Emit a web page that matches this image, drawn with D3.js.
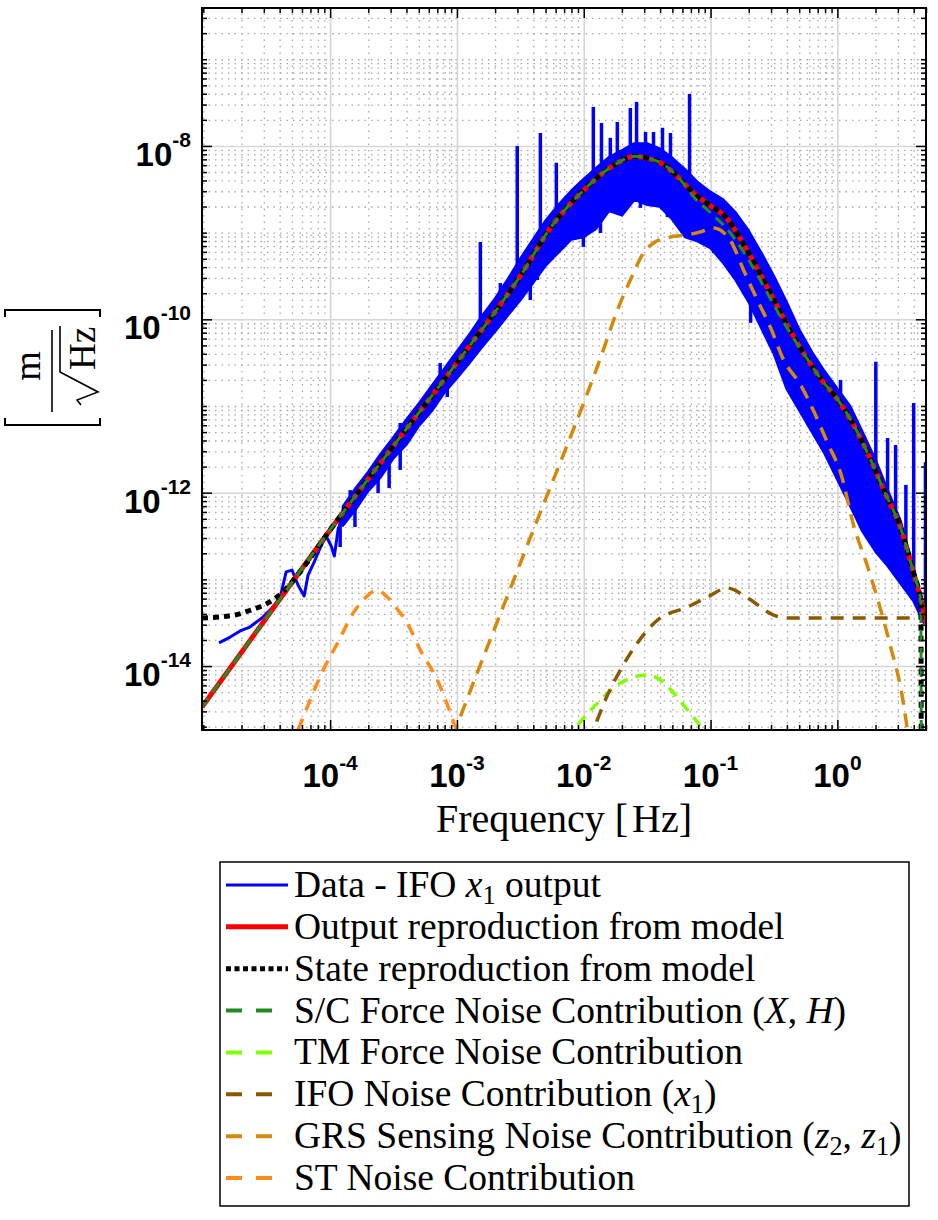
<!DOCTYPE html>
<html>
<head>
<meta charset="utf-8">
<title>IFO x1 output PSD</title>
<script src="https://cdn.jsdelivr.net/npm/d3@7/dist/d3.min.js"></script>
<style>
  body { margin: 0; background: #fff; }
  text { white-space: pre; }
</style>
</head>
<body>
<div id="my_dataviz"></div>
<script>
// ---- values ----

// data (blue), single trace at low frequency
const dataLowFreq = [1.33e-5, 1.63e-5, 1.95e-5, 2.33e-5, 2.90e-5, 3.48e-5, 4.03e-5, 4.50e-5, 5.01e-5, 5.58e-5,
  6.24e-5, 6.70e-5, 7.48e-5, 8.34e-5, 9.29e-5, 1.02e-4, 1.08e-4, 1.16e-4, 1.26e-4];
const dataLowPsd = [1.85e-14, 2.16e-14, 2.54e-14, 2.82e-14, 3.58e-14, 4.67e-14, 6.10e-14, 1.22e-13, 1.28e-13, 8.61e-14,
  6.43e-14, 1.12e-13, 1.58e-13, 2.30e-13, 3.16e-13, 2.43e-13, 1.86e-13, 3.91e-13, 5.01e-13];

// data (blue), noisy band: upper and lower envelope
const bandFreq = [1.26e-4, 1.58e-4, 2.0e-4, 2.51e-4, 3.16e-4, 3.98e-4, 5.01e-4, 6.31e-4, 7.94e-4,
  1e-3, 1.26e-3, 1.58e-3, 2.0e-3, 2.51e-3, 3.16e-3, 3.98e-3, 5.01e-3, 6.31e-3, 7.94e-3,
  1e-2, 1.26e-2, 1.58e-2, 2.0e-2, 2.51e-2, 3.16e-2, 3.98e-2, 5.01e-2, 6.31e-2, 7.94e-2,
  0.1, 0.126, 0.158, 0.2, 0.251, 0.316, 0.398, 0.501, 0.631, 0.794,
  1, 1.26, 1.58, 2.0, 2.51, 3.16, 3.98, 4.79];
const bandUpper = [6.92e-13, 1.12e-12, 1.74e-12, 2.82e-12, 4.37e-12, 6.92e-12, 1.07e-11, 1.70e-11, 2.69e-11,
  4.27e-11, 6.76e-11, 1.10e-10, 1.74e-10, 2.88e-10, 5.01e-10, 8.32e-10, 1.38e-9, 2.09e-9, 3.02e-9,
  4.17e-9, 5.62e-9, 7.41e-9, 8.91e-9, 1.07e-8, 1.07e-8, 9.33e-9, 7.24e-9, 5.37e-9, 3.80e-9,
  2.95e-9, 2.40e-9, 1.70e-9, 1.05e-9, 5.89e-10, 3.16e-10, 1.58e-10, 7.59e-11, 4.17e-11, 2.51e-11,
  1.58e-11, 1.00e-11, 5.01e-12, 2.40e-12, 1.05e-12, 4.68e-13, 1.38e-13, 4.47e-14];
const bandLower = [4.17e-13, 6.31e-13, 1.05e-12, 1.51e-12, 2.51e-12, 3.55e-12, 5.89e-12, 8.71e-12, 1.41e-11,
  2.09e-11, 3.16e-11, 4.79e-11, 7.24e-11, 1.10e-10, 1.66e-10, 2.63e-10, 4.17e-10, 5.89e-10, 8.32e-10,
  8.91e-10, 1.12e-9, 1.78e-9, 1.58e-9, 2.40e-9, 2.09e-9, 2.00e-9, 1.41e-9, 8.91e-10, 7.94e-10,
  6.61e-10, 4.47e-10, 2.82e-10, 1.58e-10, 7.94e-11, 3.98e-11, 1.58e-11, 8.91e-12, 5.01e-12, 2.82e-12,
  1.41e-12, 7.08e-13, 3.55e-13, 2.09e-13, 1.41e-13, 8.91e-14, 5.62e-14, 3.16e-14];

// data (blue), isolated lines and dips: frequency, bottom, top
const spikeFreq = [1.53e-3, 2.99e-3, 4.55e-3, 6.08e-3, 1.19e-2, 1.38e-2, 1.62e-2, 1.84e-2, 2.33e-2, 2.61e-2, 3.07e-2,
  3.55e-2, 4.18e-2, 4.83e-2, 6.83e-2, 1.06, 2.01, 2.49, 2.88, 3.47, 4.0, 4.95,
  1.44e-4, 3.57e-4, 7.38e-4, 2.20e-3,
  1.20e-4, 1.57e-4, 2.39e-4, 2.92e-4, 3.57e-4, 8.39e-4, 1.83e-3, 3.79e-3, 4.31e-3, 9.93e-3, 1.355e-2, 2.80e-2,
  4.57e-2, 0.106, 0.207];
const spikeLow = [7.6e-11, 2.5e-10, 5.5e-10, 1.23e-9, 3.55e-9, 3.98e-9, 6.0e-9, 6.9e-9, 8.9e-9, 9.0e-9, 7.0e-9,
  9.0e-9, 6.0e-9, 7.0e-9, 4.6e-9, 1.02e-11, 1.82e-12, 8.3e-13, 5.5e-13, 2.8e-13, 1.17e-13, 4.5e-14,
  7.4e-13, 4.4e-12, 1.78e-11, 1.5e-10,
  2.36e-13, 4.02e-13, 9.9e-13, 1.13e-12, 1.83e-12, 1.27e-11, 6.25e-11, 1.67e-10, 2.84e-10, 6.84e-10, 9.9e-10, 1.93e-9,
  1.51e-9, 5.82e-10, 9.1e-11];
const spikeHigh = [7.8e-10, 1.0e-8, 1.41e-8, 6.4e-9, 2.82e-8, 1.84e-8, 1.24e-8, 1.89e-8, 2.74e-8, 3.22e-8, 1.45e-8,
  1.45e-8, 1.62e-8, 1.41e-8, 3.98e-8, 2.0e-11, 3.24e-11, 4.27e-12, 3.55e-12, 1.23e-12, 1.08e-11, 2.24e-12,
  1.07e-12, 6.37e-12, 3.13e-11, 2.62e-10,
  5.2e-13, 8.9e-13, 2.0e-12, 2.95e-12, 4.4e-12, 2.2e-11, 1.1e-10, 4.0e-10, 5.0e-10, 2.0e-9, 3.0e-9, 5.0e-9,
  4.0e-9, 1.5e-9, 3.0e-10];

// output reproduction from model (red)
const outFreq = [9.77e-6, 3.16e-5, 1e-4, 3.16e-4, 1e-3, 3.16e-3, 5.62e-3, 1e-2, 1.78e-2, 2.51e-2, 3.16e-2, 4.22e-2,
  5.62e-2, 7.5e-2, 0.1, 0.133, 0.178, 0.237, 0.316, 0.422, 0.562, 0.75, 1, 1.33, 1.78, 2.37, 3.16, 3.98, 4.47, 5.0];
const outPsd = [3.37e-15, 3.63e-14, 3.72e-13, 3.47e-12, 3.16e-11, 3.16e-10, 1.20e-9, 3.09e-9, 6.17e-9, 7.59e-9, 7.24e-9, 6.17e-9,
  4.27e-9, 2.79e-9, 2.04e-9, 1.49e-9, 7.80e-10, 3.71e-10, 1.67e-10, 7.53e-11, 3.72e-11, 2.00e-11, 1.20e-11, 6.19e-12,
  2.63e-12, 1.00e-12, 3.89e-13, 1.20e-13, 6.61e-14, 3.16e-14];

// state reproduction from model (black dotted)
const stateFreq = [9.77e-6, 1.78e-5, 2.37e-5, 3.16e-5, 4.22e-5, 5.62e-5, 1e-4, 3.16e-4, 1e-3, 3.16e-3, 5.62e-3, 1e-2,
  1.78e-2, 2.51e-2, 3.16e-2, 4.22e-2, 5.62e-2, 7.5e-2, 0.1, 0.133, 0.178, 0.237, 0.316, 0.422, 0.562, 0.75, 1, 1.33,
  1.78, 2.37, 3.16, 3.98, 4.47, 4.55, 4.6];
const statePsd = [3.58e-14, 3.89e-14, 4.43e-14, 5.25e-14, 7.08e-14, 1.15e-13, 3.72e-13, 3.47e-12, 3.16e-11, 3.16e-10, 1.20e-9, 3.09e-9,
  6.17e-9, 7.59e-9, 7.24e-9, 6.17e-9, 4.27e-9, 2.79e-9, 2.04e-9, 1.49e-9, 7.80e-10, 3.71e-10, 1.67e-10, 7.53e-11, 3.72e-11, 2.00e-11,
  1.20e-11, 6.19e-12, 2.63e-12, 1.00e-12, 3.89e-13, 1.20e-13, 6.61e-14, 5.75e-14, 1e-16];

// S/C force noise contribution
const scFreq = [9.77e-6, 3.16e-5, 1e-4, 3.16e-4, 1e-3, 3.16e-3, 5.62e-3, 1e-2, 1.78e-2, 2.51e-2, 3.16e-2, 4.22e-2,
  5.62e-2, 7.5e-2, 0.1, 0.133, 0.178, 0.237, 0.316, 0.422, 0.562, 0.75, 1, 1.33, 1.78, 2.37, 3.16, 3.98, 4.47, 4.55, 4.6];
const scPsd = [3.37e-15, 3.63e-14, 3.72e-13, 3.47e-12, 3.16e-11, 3.16e-10, 1.20e-9, 3.09e-9, 6.17e-9, 7.59e-9, 7.24e-9, 6.17e-9,
  4.27e-9, 2.51e-9, 1.69e-9, 1.13e-9, 6.31e-10, 3.16e-10, 1.46e-10, 7.08e-11, 3.72e-11, 2.00e-11, 1.20e-11, 6.19e-12,
  2.63e-12, 1.00e-12, 3.89e-13, 1.20e-13, 6.61e-14, 5.75e-14, 1e-16];

// TM force noise contribution
const tmFreq = [7.16e-3, 8.28e-3, 1.355e-2, 1.945e-2, 3.18e-2, 4.03e-2, 5.11e-2, 6.58e-2, 8.65e-2, 9.64e-2];
const tmPsd = [1.44e-15, 1.83e-15, 4.06e-15, 6.37e-15, 7.87e-15, 6.90e-15, 4.89e-15, 3.11e-15, 1.83e-15, 1.33e-15];

// IFO noise contribution
const ifoFreq = [1.09e-2, 1.19e-2, 1.54e-2, 1.945e-2, 2.65e-2, 3.82e-2, 6.58e-2, 9.46e-2, 0.136, 0.196, 0.314, 0.406, 1.27, 4.31];
const ifoPsd = [1.33e-15, 1.83e-15, 4.63e-15, 8.99e-15, 1.85e-14, 3.40e-14, 4.80e-14, 6.25e-14, 7.94e-14, 6.10e-14,
  3.88e-14, 3.58e-14, 3.58e-14, 3.58e-14];

// GRS sensing noise contribution
const grsFreq = [9.18e-4, 9.70e-4, 3.79e-3, 1.355e-2, 1.845e-2, 2.33e-2, 2.96e-2, 3.55e-2, 4.83e-2, 6.58e-2, 8.34e-2,
  0.1057, 0.144, 0.182, 0.234, 0.298, 0.377, 0.513, 0.650, 0.838, 1.062, 1.355, 1.714, 2.056, 2.606, 3.236, 3.614];
const grsPsd = [1.48e-15, 1.83e-15, 3.03e-13, 3.58e-11, 1.28e-10, 2.84e-10, 5.82e-10, 7.60e-10, 8.91e-10, 9.40e-10, 1.02e-9,
  1.13e-9, 8.02e-10, 3.71e-10, 1.67e-10, 7.94e-11, 3.40e-11, 1.75e-11, 8.75e-12, 3.74e-12, 1.69e-12, 4.02e-13, 1.47e-13,
  6.25e-14, 1.75e-14, 4.63e-15, 1.60e-15];

// ST noise contribution
const stFreq = [4.83e-5, 5.58e-5, 8.81e-5, 1.16e-4, 1.52e-4, 1.89e-4, 2.35e-4, 2.82e-4, 3.38e-4, 4.06e-4, 5.14e-4,
  7.00e-4, 9.70e-4, 1.06e-3];
const stPsd = [1.10e-15, 1.83e-15, 8.99e-15, 1.91e-14, 4.09e-14, 6.10e-14, 7.53e-14, 6.25e-14, 4.55e-14, 3.13e-14,
  1.53e-14, 6.90e-15, 1.98e-15, 1.33e-15];

// ticks
const xTicks = [1e-4, 1e-3, 1e-2, 1e-1, 1];
const xTickExp = ['-4', '-3', '-2', '-1', '0'];
const yTicks = [1e-14, 1e-12, 1e-10, 1e-8];
const yTickExp = ['-14', '-12', '-10', '-8'];

const legendLabels = [
  'Data - IFO $x_1$ output',
  'Output reproduction from model',
  'State reproduction from model',
  'S/C Force Noise Contribution ($X$, $H$)',
  'TM Force Noise Contribution',
  'IFO Noise Contribution ($x_1$)',
  'GRS Sensing Noise Contribution ($z_2$, $z_1$)',
  'ST Noise Contribution'
];

// ---- layout ----
const margin = {top: 8, right: 12, bottom: 490, left: 202};
const outerWidth = 938;
const outerHeight = 1220;
const innerWidth = outerWidth - margin.left - margin.right;
const innerHeight = outerHeight - margin.top - margin.bottom;
const serif = "'Liberation Serif', 'Times New Roman', serif";
const sans = "'Liberation Sans', Arial, Helvetica, sans-serif";

const SVG = d3.select('#my_dataviz').append('svg')
  .attr('width', outerWidth)
  .attr('height', outerHeight);
const svg = SVG.append('g')
  .attr('transform', 'translate(' + margin.left + ',' + margin.top + ')');

const xScale = d3.scaleLog().domain([9.766e-6, 5]).range([0, innerWidth]);
const yScale = d3.scaleLog().domain([1.83e-15, 3.9e-7]).range([innerHeight, 0]);

function minorTicks(scale, skip) {
  const dom = scale.domain(), out = [];
  for (let d = Math.floor(Math.log10(dom[0])); d <= Math.ceil(Math.log10(dom[1])); d++) {
    for (let k = 1; k < 10; k++) {
      const v = k * Math.pow(10, d);
      if (v < dom[0] || v > dom[1]) continue;
      if (skip.some(function(s) { return Math.abs(v / s - 1) < 1e-6; })) continue;
      out.push(v);
    }
  }
  return out;
}
const xMinor = minorTicks(xScale, xTicks);
const yMinor = minorTicks(yScale, yTicks);

// grid: dotted minor, solid major
function grid(axis, values, size, transform, color, dash, width) {
  const g = svg.append('g')
    .attr('transform', transform)
    .call(axis.tickValues(values).tickSize(size).tickSizeOuter(0).tickFormat(''));
  g.select('.domain').remove();
  g.selectAll('line')
    .attr('stroke', color)
    .attr('stroke-width', width)
    .attr('stroke-dasharray', dash);
}
grid(d3.axisBottom(xScale), xMinor, -innerHeight, 'translate(0,' + innerHeight + ')', '#a8a8a8', '1.5 5', 1.3);
grid(d3.axisLeft(yScale), yMinor, -innerWidth, null, '#a8a8a8', '1.5 5', 1.3);
grid(d3.axisBottom(xScale), xTicks, -innerHeight, 'translate(0,' + innerHeight + ')', '#d6d6d6', null, 1.6);
grid(d3.axisLeft(yScale), yTicks, -innerWidth, null, '#d6d6d6', null, 1.6);

// ---- curves ----
svg.append('clipPath').attr('id', 'plotClip')
  .append('rect').attr('width', innerWidth).attr('height', innerHeight);
const plot = svg.append('g').attr('clip-path', 'url(#plotClip)');

const line = d3.line()
  .x(function(d) { return xScale(d[0]); })
  .y(function(d) { return yScale(d[1]); })
  .curve(d3.curveMonotoneX);
const straight = d3.line()
  .x(function(d) { return xScale(d[0]); })
  .y(function(d) { return yScale(d[1]); });
const band = d3.area()
  .x(function(d) { return xScale(d[0]); })
  .y0(function(d) { return yScale(d[2]); })
  .y1(function(d) { return yScale(d[1]); });

const blue = '#0000ff';
plot.append('path')
  .datum(d3.zip(bandFreq, bandUpper, bandLower))
  .attr('d', band)
  .attr('fill', blue)
  .attr('stroke', blue)
  .attr('stroke-width', 2.5)
  .attr('stroke-linejoin', 'round');
plot.append('path')
  .datum(d3.zip(dataLowFreq, dataLowPsd))
  .attr('d', straight)
  .attr('fill', 'none')
  .attr('stroke', blue)
  .attr('stroke-width', 3)
  .attr('stroke-linejoin', 'round');
plot.selectAll('.spike')
  .data(d3.zip(spikeFreq, spikeLow, spikeHigh))
  .enter().append('line')
  .attr('class', 'spike')
  .attr('x1', function(d) { return xScale(d[0]); })
  .attr('x2', function(d) { return xScale(d[0]); })
  .attr('y1', function(d) { return yScale(d[1]); })
  .attr('y2', function(d) { return yScale(d[2]); })
  .attr('stroke', blue)
  .attr('stroke-width', 3.5);

const series = [
  {freq: outFreq,   psd: outPsd,   color: '#ff0000', width: 5,   dash: null,     legendDash: null},
  {freq: stateFreq, psd: statePsd, color: '#000000', width: 5,   dash: '6 5',    legendDash: '5 3.5'},
  {freq: scFreq,    psd: scPsd,    color: '#228b22', width: 3,   dash: '11 7',   legendDash: '16 14'},
  {freq: tmFreq,    psd: tmPsd,    color: '#80ff00', width: 3.5, dash: '11 8',   legendDash: '16 14'},
  {freq: ifoFreq,   psd: ifoPsd,   color: '#8b5a00', width: 3.5, dash: '13 9',   legendDash: '16 14'},
  {freq: grsFreq,   psd: grsPsd,   color: '#d4890a', width: 3.5, dash: '14 9',   legendDash: '16 14'},
  {freq: stFreq,    psd: stPsd,    color: '#ff8c1a', width: 3.5, dash: '12 9',   legendDash: '16 14'}
];
series.forEach(function(s) {
  plot.append('path')
    .datum(d3.zip(s.freq, s.psd))
    .attr('d', line)
    .attr('fill', 'none')
    .attr('stroke', s.color)
    .attr('stroke-width', s.width)
    .attr('stroke-dasharray', s.dash);
});

// ---- axes: inward ticks on all four sides ----
function ticks(axis, values, size, transform) {
  const g = svg.append('g')
    .attr('transform', transform)
    .call(axis.tickValues(values).tickSize(size).tickSizeOuter(0).tickFormat(''));
  g.select('.domain').remove();
  g.selectAll('line').attr('stroke', '#000').attr('stroke-width', 1.5);
}
ticks(d3.axisBottom(xScale), xTicks, -10, 'translate(0,' + innerHeight + ')');
ticks(d3.axisBottom(xScale), xMinor, -5, 'translate(0,' + innerHeight + ')');
ticks(d3.axisTop(xScale), xTicks, -10, null);
ticks(d3.axisTop(xScale), xMinor, -5, null);
ticks(d3.axisLeft(yScale), yTicks, -10, null);
ticks(d3.axisLeft(yScale), yMinor, -5, null);
ticks(d3.axisRight(yScale), yTicks, -10, 'translate(' + innerWidth + ',0)');
ticks(d3.axisRight(yScale), yMinor, -5, 'translate(' + innerWidth + ',0)');

svg.append('rect')
  .attr('width', innerWidth)
  .attr('height', innerHeight)
  .attr('fill', 'none')
  .attr('stroke', '#000')
  .attr('stroke-width', 2);

// tick labels 10^n
xTicks.forEach(function(t, i) {
  const txt = svg.append('text')
    .attr('x', xScale(t))
    .attr('y', innerHeight + 57)
    .attr('text-anchor', 'middle')
    .attr('font-family', sans)
    .attr('font-weight', 'bold')
    .attr('font-size', 33);
  txt.append('tspan').text('10');
  txt.append('tspan').attr('dy', -17).attr('font-size', 21).text(xTickExp[i]);
});
yTicks.forEach(function(t, i) {
  const txt = svg.append('text')
    .attr('x', -11)
    .attr('y', yScale(t) + 20)
    .attr('text-anchor', 'end')
    .attr('font-family', sans)
    .attr('font-weight', 'bold')
    .attr('font-size', 33);
  txt.append('tspan').text('10');
  txt.append('tspan').attr('dy', -19).attr('font-size', 21).text(yTickExp[i]);
});

// x label
const xl = SVG.append('text')
  .attr('x', margin.left + innerWidth / 2)
  .attr('y', 832)
  .attr('text-anchor', 'middle')
  .style('font-family', serif)
  .style('font-size', '40px');
xl.append('tspan').text('Frequency [');
xl.append('tspan').attr('dx', 4).text('Hz]');

// y label: [ m / sqrt(Hz) ] rotated
const yl = SVG.append('g')
  .attr('transform', 'translate(52,369) rotate(-90)')
  .style('font-family', serif);
yl.append('path')
  .attr('d', 'M-49,-47 L-56,-47 L-56,48 L-49,48 M52,-47 L59,-47 L59,48 L52,48')
  .attr('fill', 'none').attr('stroke', '#000').attr('stroke-width', 2);
yl.append('line')
  .attr('x1', -43).attr('x2', 39).attr('y1', 0).attr('y2', 0)
  .attr('stroke', '#000').attr('stroke-width', 1.6);
yl.append('text')
  .attr('x', 3).attr('y', -12)
  .attr('text-anchor', 'middle')
  .style('font-size', '38px')
  .text('m');
yl.append('path')
  .attr('d', 'M-36,29 L-31,25 L-23,46 L-3,8 L43,8')
  .attr('fill', 'none').attr('stroke', '#000').attr('stroke-width', 1.6)
  .attr('stroke-linejoin', 'miter');
yl.append('text')
  .attr('x', -1).attr('y', 43)
  .style('font-size', '37px')
  .text('Hz');

// ---- legend ----
const legend = SVG.append('g').style('font-family', serif).style('font-size', '37.5px');
legend.append('rect')
  .attr('x', 220).attr('y', 862)
  .attr('width', 689).attr('height', 344)
  .attr('fill', '#fff')
  .attr('stroke', '#000')
  .attr('stroke-width', 1.5);

const legendStyles = [{color: blue, width: 3, legendDash: null}].concat(series);

function richText(sel, str) {
  let pendingDy = 0;
  function add(text, italic, sub) {
    const t = sel.append('tspan').text(text);
    if (italic) t.style('font-style', 'italic');
    if (sub) { t.style('font-size', '0.7em').attr('dy', 7 + pendingDy); pendingDy = -7; }
    else if (pendingDy) { t.attr('dy', pendingDy); pendingDy = 0; }
  }
  str.split('$').forEach(function(part, i) {
    if (i % 2 === 0) { if (part) add(part, false, false); return; }
    for (let j = 0; j < part.length; j++) {
      if (part[j] === '_') { add(part[j + 1], false, true); j++; }
      else add(part[j], /[A-Za-z]/.test(part[j]), false);
    }
  });
}

legendLabels.forEach(function(label, i) {
  const cy = 885 + i * 41.86;
  const st = legendStyles[i];
  const dashed = st.legendDash && st.legendDash !== '5 3.5';
  legend.append('line')
    .attr('x1', 226).attr('x2', dashed ? 273 : 288)
    .attr('y1', cy).attr('y2', cy)
    .attr('stroke', st.color)
    .attr('stroke-width', i === 0 ? 3 : (i < 3 ? 5 : 4))
    .attr('stroke-dasharray', st.legendDash);
  const txt = legend.append('text')
    .attr('x', 294)
    .attr('y', cy + 12);
  richText(txt, label);
});
</script>
</body>
</html>
